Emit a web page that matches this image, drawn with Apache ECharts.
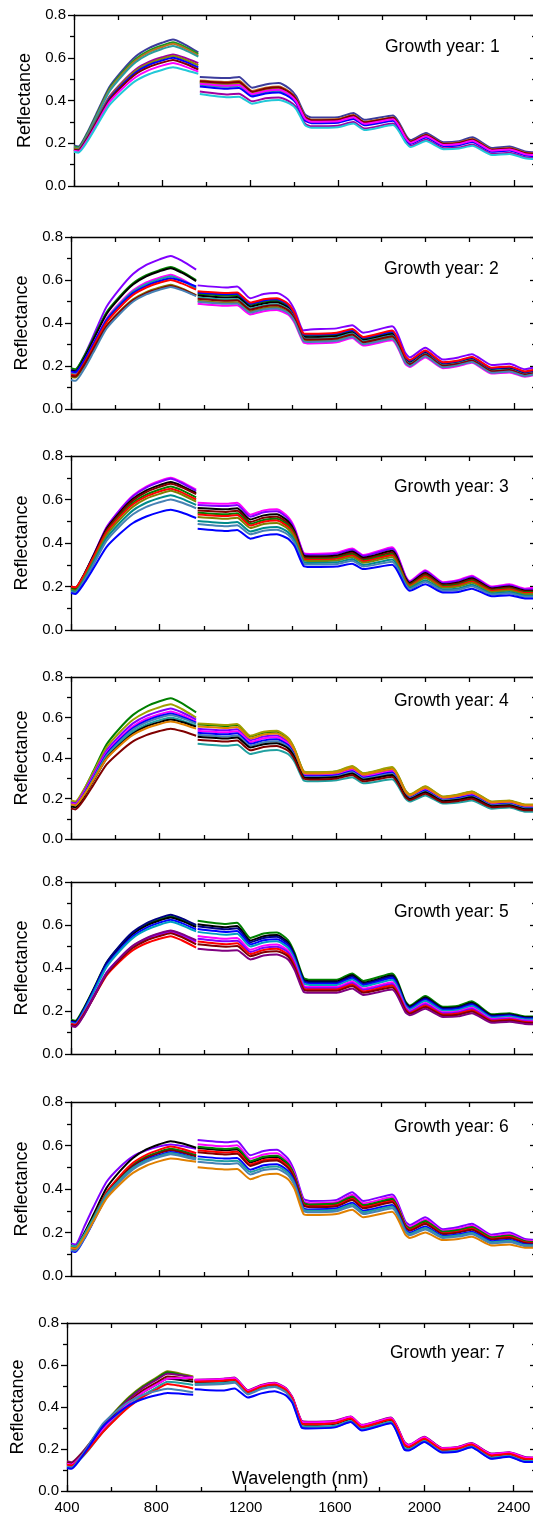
<!DOCTYPE html>
<html>
<head>
<meta charset="utf-8">
<script src="https://cdn.jsdelivr.net/npm/echarts@6.0.0/dist/echarts.min.js"></script>
<style>
html,body{margin:0;padding:0;overflow:hidden;background:#fff;}
#chart{width:540px;height:1515px;}
</style>
</head>
<body>
<div id="chart"></div>
<script>
// Wavelength grid (nm); 968 is the detector gap (null values)
const wavelengths = [400,420,460,500,560,620,680,740,800,850,900,965,968,972,1100,1150,1210,1270,1330,1380,1410,1450,1480,1600,1670,1720,1850,1910,1930,2000,2080,2150,2210,2300,2380,2450,2500];

const panelTitles = ['Growth year: 1','Growth year: 2','Growth year: 3','Growth year: 4','Growth year: 5','Growth year: 6','Growth year: 7'];
const xTickValues = [400,800,1200,1600,2000,2400];

const year1 = [
 [.19,.185,.249,.334,.462,.541,.606,.645,.670,.685,.664,.625,null,.510,.505,.510,.460,.475,.482,.455,.420,.335,.320,.322,.342,.310,.330,.235,.215,.248,.205,.210,.228,.178,.185,.162,.158],
 [.185,.180,.243,.326,.453,.531,.594,.633,.657,.672,.653,.618,null,.482,.473,.478,.434,.448,.454,.430,.399,.317,.303,.306,.324,.293,.314,.223,.203,.235,.193,.198,.214,.166,.173,.151,.147],
 [.18,.175,.238,.321,.447,.524,.587,.626,.650,.665,.646,.61,null,.494,.487,.492,.445,.460,.466,.441,.408,.325,.310,.313,.332,.300,.321,.228,.208,.240,.198,.203,.220,.171,.178,.156,.152],
 [.18,.175,.237,.318,.441,.517,.579,.617,.641,.655,.638,.605,null,.474,.464,.469,.426,.440,.446,.423,.393,.312,.298,.301,.319,.288,.310,.219,.200,.231,.190,.194,.210,.163,.169,.148,.144],
 [.175,.171,.228,.303,.417,.487,.545,.580,.602,.615,.601,.575,null,.442,.428,.432,.396,.410,.414,.395,.369,.292,.279,.282,.299,.269,.292,.205,.187,.216,.177,.180,.194,.150,.155,.135,.131],
 [.175,.171,.227,.301,.413,.482,.539,.573,.595,.608,.593,.565,null,.486,.478,.482,.437,.452,.458,.434,.402,.320,.306,.308,.327,.296,.316,.224,.205,.237,.195,.199,.216,.168,.174,.152,.148],
 [.17,.166,.222,.295,.407,.475,.531,.566,.587,.60,.584,.555,null,.466,.455,.459,.419,.433,.438,.416,.387,.307,.294,.296,.314,.284,.305,.216,.197,.227,.187,.191,.206,.160,.166,.144,.140],
 [.17,.166,.220,.292,.401,.468,.523,.556,.577,.59,.574,.545,null,.490,.483,.487,.441,.456,.462,.438,.405,.323,.308,.310,.330,.298,.319,.226,.207,.239,.197,.201,.218,.170,.176,.154,.150],
 [.165,.161,.214,.284,.391,.456,.509,.542,.563,.575,.561,.535,null,.478,.469,.473,.430,.444,.450,.427,.396,.315,.301,.303,.322,.291,.312,.221,.202,.233,.192,.196,.212,.165,.171,.149,.145],
 [.16,.156,.207,.275,.377,.440,.492,.523,.543,.555,.544,.525,null,.430,.415,.418,.385,.398,.402,.385,.360,.285,.272,.275,.292,.262,.285,.200,.182,.210,.172,.175,.188,.145,.150,.130,.126]
];
const year2 = [
 [.185,.180,.248,.338,.475,.559,.628,.670,.696,.712,.690,.648,null,.575,.565,.570,.515,.535,.540,.510,.460,.365,.370,.375,.390,.355,.385,.260,.240,.285,.230,.240,.255,.205,.210,.185,.195],
 [.19,.185,.246,.326,.449,.524,.585,.622,.646,.66,.639,.60,null,.536,.528,.530,.484,.499,.504,.480,.436,.344,.341,.346,.364,.327,.356,.238,.221,.266,.212,.221,.237,.187,.192,.170,.180],
 [.18,.175,.237,.318,.441,.517,.579,.617,.641,.655,.634,.595,null,.528,.519,.521,.476,.491,.496,.472,.429,.337,.334,.339,.357,.321,.349,.233,.216,.261,.208,.217,.233,.183,.188,.166,.176],
 [.17,.165,.225,.302,.420,.493,.552,.589,.611,.625,.604,.565,null,.490,.480,.482,.440,.455,.460,.440,.400,.310,.305,.310,.330,.295,.320,.210,.195,.240,.190,.200,.215,.165,.170,.150,.160],
 [.165,.160,.219,.296,.414,.487,.546,.582,.604,.618,.598,.56,null,.519,.510,.512,.467,.482,.487,.465,.422,.331,.327,.332,.351,.315,.342,.227,.211,.256,.204,.213,.228,.178,.184,.162,.172],
 [.175,.171,.227,.301,.413,.482,.539,.573,.595,.608,.595,.57,null,.542,.534,.536,.490,.505,.510,.485,.441,.348,.346,.351,.368,.331,.361,.242,.225,.269,.215,.223,.239,.189,.195,.173,.183],
 [.16,.156,.213,.288,.402,.472,.530,.565,.587,.60,.584,.555,null,.548,.540,.542,.495,.510,.515,.490,.445,.352,.350,.355,.372,.335,.365,.245,.228,.272,.218,.226,.242,.192,.198,.175,.185],
 [.15,.146,.201,.274,.385,.454,.510,.544,.565,.578,.561,.53,null,.504,.495,.497,.454,.469,.474,.452,.411,.320,.316,.321,.340,.305,.331,.219,.203,.248,.197,.206,.222,.172,.177,.156,.166],
 [.155,.151,.205,.276,.384,.451,.505,.539,.559,.572,.557,.528,null,.513,.504,.506,.462,.477,.482,.460,.418,.327,.323,.328,.347,.311,.338,.224,.208,.253,.201,.210,.226,.176,.181,.160,.170],
 [.135,.131,.187,.261,.373,.442,.499,.533,.555,.568,.553,.525,null,.499,.489,.491,.448,.463,.468,.447,.407,.316,.312,.317,.336,.301,.327,.215,.200,.245,.194,.204,.219,.169,.174,.154,.164]
];
const year3 = [
 [.19,.185,.251,.338,.471,.552,.618,.659,.685,.70,.681,.645,null,.585,.580,.585,.530,.550,.555,.520,.470,.355,.350,.355,.375,.345,.380,.250,.225,.275,.220,.230,.250,.200,.210,.190,.195],
 [.195,.19,.255,.340,.47,.55,.615,.655,.68,.695,.676,.64,null,.575,.570,.575,.521,.541,.546,.512,.463,.350,.345,.350,.369,.340,.374,.246,.221,.270,.216,.226,.245,.196,.206,.186,.186],
 [.2,.195,.258,.339,.464,.541,.603,.642,.666,.68,.663,.63,null,.561,.555,.560,.508,.527,.532,.500,.453,.343,.338,.342,.361,.332,.364,.240,.216,.262,.210,.219,.238,.191,.200,.181,.181],
 [.195,.19,.252,.333,.457,.534,.596,.634,.658,.672,.656,.625,null,.549,.543,.548,.497,.516,.521,.490,.445,.337,.332,.336,.354,.326,.356,.235,.212,.256,.206,.214,.232,.187,.195,.177,.177],
 [.19,.185,.246,.326,.449,.524,.585,.622,.646,.66,.643,.61,null,.539,.532,.537,.488,.506,.511,.482,.438,.332,.327,.331,.348,.320,.350,.231,.208,.250,.202,.209,.227,.183,.191,.173,.173],
 [.2,.196,.254,.331,.448,.52,.578,.614,.637,.65,.633,.60,null,.531,.524,.529,.480,.498,.503,.475,.432,.328,.323,.327,.343,.316,.344,.227,.205,.246,.198,.205,.223,.180,.187,.170,.170],
 [.185,.18,.24,.317,.435,.508,.567,.604,.626,.64,.623,.59,null,.519,.511,.516,.469,.487,.492,.465,.423,.322,.317,.320,.336,.309,.336,.222,.200,.239,.194,.200,.217,.175,.182,.165,.165],
 [.18,.176,.233,.308,.422,.492,.55,.585,.607,.62,.604,.575,null,.501,.492,.497,.453,.469,.474,.450,.410,.313,.308,.311,.326,.299,.324,.215,.193,.229,.186,.191,.208,.168,.175,.158,.158],
 [.175,.171,.226,.298,.409,.477,.532,.566,.587,.60,.586,.56,null,.487,.477,.482,.440,.456,.461,.438,.400,.306,.301,.303,.318,.292,.314,.209,.188,.222,.181,.185,.201,.163,.169,.153,.153],
 [.17,.166,.216,.281,.381,.442,.492,.522,.542,.553,.54,.515,null,.465,.455,.460,.420,.435,.440,.420,.385,.295,.290,.292,.305,.280,.300,.200,.180,.210,.172,.175,.190,.155,.160,.145,.145]
];
const year4 = [
 [.185,.18,.246,.333,.466,.547,.613,.654,.68,.695,.671,.625,null,.565,.558,.563,.506,.525,.530,.496,.442,.333,.328,.333,.357,.323,.352,.238,.218,.258,.208,.218,.233,.183,.188,.168,.168],
 [.19,.185,.247,.328,.451,.527,.589,.627,.651,.665,.642,.60,null,.570,.563,.568,.510,.530,.535,.500,.445,.335,.330,.335,.360,.325,.355,.240,.220,.260,.210,.220,.235,.185,.190,.170,.170],
 [.18,.175,.236,.315,.436,.510,.571,.608,.631,.645,.626,.59,null,.545,.537,.542,.488,.506,.511,.480,.429,.324,.319,.324,.346,.313,.340,.230,.211,.249,.201,.210,.224,.176,.181,.161,.161],
 [.175,.17,.23,.307,.425,.498,.557,.594,.616,.63,.613,.58,null,.535,.527,.532,.479,.497,.502,.472,.422,.319,.314,.319,.341,.308,.334,.226,.208,.244,.198,.206,.219,.173,.178,.158,.158],
 [.17,.166,.224,.301,.418,.49,.548,.584,.607,.62,.604,.575,null,.525,.517,.522,.470,.487,.492,.464,.416,.315,.310,.315,.335,.303,.328,.222,.204,.240,.194,.202,.215,.169,.174,.154,.154],
 [.165,.161,.219,.295,.411,.482,.540,.576,.599,.612,.597,.57,null,.515,.506,.511,.460,.478,.483,.456,.409,.310,.305,.310,.330,.298,.322,.218,.201,.235,.191,.198,.210,.166,.171,.151,.151],
 [.165,.161,.217,.291,.404,.474,.530,.565,.587,.60,.586,.56,null,.470,.460,.465,.420,.435,.440,.420,.380,.290,.285,.290,.305,.275,.295,.200,.185,.215,.175,.180,.190,.150,.155,.135,.135],
 [.16,.156,.212,.285,.397,.465,.521,.556,.577,.59,.578,.555,null,.505,.496,.501,.452,.468,.473,.448,.403,.306,.301,.306,.324,.293,.316,.214,.197,.231,.187,.194,.206,.162,.167,.147,.147],
 [.17,.166,.219,.289,.396,.461,.514,.547,.568,.58,.568,.545,null,.555,.548,.553,.497,.516,.521,.488,.435,.328,.323,.328,.352,.318,.346,.234,.215,.253,.205,.214,.228,.180,.185,.165,.165],
 [.15,.146,.197,.265,.367,.430,.482,.513,.533,.545,.533,.51,null,.490,.481,.486,.438,.454,.459,.436,.393,.299,.294,.299,.316,.285,.307,.208,.192,.224,.182,.188,.199,.157,.162,.142,.142]
];
const year5 = [
 [.16,.155,.218,.299,.424,.501,.563,.602,.626,.64,.624,.595,null,.620,.605,.610,.540,.560,.565,.530,.470,.355,.345,.345,.375,.340,.375,.245,.225,.270,.220,.225,.245,.185,.190,.175,.175],
 [.155,.15,.213,.294,.419,.496,.558,.597,.621,.635,.619,.59,null,.604,.590,.595,.528,.548,.553,.519,.460,.347,.338,.338,.367,.332,.366,.239,.220,.263,.214,.219,.238,.180,.185,.171,.171],
 [.15,.145,.21,.294,.424,.504,.568,.608,.633,.648,.631,.60,null,.594,.580,.585,.520,.540,.545,.512,.454,.342,.333,.333,.361,.327,.360,.235,.216,.258,.210,.215,.234,.177,.182,.168,.168],
 [.15,.145,.207,.288,.411,.487,.549,.587,.611,.625,.609,.58,null,.581,.568,.572,.510,.529,.534,.503,.446,.336,.327,.327,.354,.321,.353,.230,.212,.252,.206,.210,.229,.173,.178,.165,.164],
 [.145,.14,.201,.281,.404,.479,.54,.577,.601,.615,.599,.57,null,.568,.555,.559,.500,.519,.524,.494,.438,.329,.321,.321,.347,.314,.345,.225,.207,.246,.201,.205,.223,.169,.174,.161,.160],
 [.14,.136,.191,.264,.375,.444,.5,.534,.555,.568,.551,.52,null,.549,.536,.540,.485,.504,.509,.481,.426,.319,.312,.312,.337,.304,.334,.218,.200,.237,.194,.198,.215,.163,.168,.156,.155],
 [.14,.136,.192,.265,.378,.447,.503,.537,.559,.572,.556,.525,null,.536,.524,.527,.475,.494,.499,.472,.418,.313,.306,.306,.330,.298,.326,.213,.196,.231,.189,.193,.209,.159,.164,.152,.151],
 [.14,.136,.189,.258,.364,.43,.483,.515,.536,.548,.529,.495,null,.523,.511,.515,.465,.484,.489,.463,.410,.306,.300,.300,.323,.291,.319,.208,.191,.225,.184,.188,.204,.155,.160,.149,.147],
 [.135,.131,.186,.259,.37,.438,.494,.528,.549,.562,.544,.51,null,.510,.499,.502,.455,.473,.478,.454,.402,.300,.294,.294,.316,.285,.311,.203,.187,.219,.179,.183,.198,.151,.156,.145,.144],
 [.13,.126,.183,.259,.375,.446,.504,.539,.562,.575,.559,.53,null,.490,.480,.483,.440,.458,.463,.440,.390,.290,.285,.285,.305,.275,.300,.195,.180,.210,.172,.175,.190,.145,.150,.140,.138]
];
const year6 = [
 [.15,.145,.227,.314,.432,.5,.55,.578,.596,.605,.598,.585,null,.625,.615,.620,.555,.575,.580,.540,.480,.355,.345,.350,.385,.345,.375,.250,.235,.270,.215,.225,.240,.190,.200,.170,.165],
 [.13,.126,.184,.261,.378,.45,.508,.544,.567,.58,.575,.565,null,.606,.596,.601,.539,.559,.564,.526,.468,.345,.335,.340,.373,.334,.363,.241,.226,.260,.208,.217,.231,.183,.192,.164,.160],
 [.14,.135,.198,.279,.404,.481,.543,.582,.606,.62,.61,.59,null,.588,.578,.582,.522,.542,.547,.512,.456,.334,.326,.331,.361,.323,.351,.232,.217,.249,.200,.209,.222,.175,.184,.158,.155],
 [.135,.13,.189,.266,.383,.455,.513,.549,.572,.585,.575,.555,null,.594,.584,.588,.528,.548,.553,.516,.460,.338,.329,.334,.365,.326,.355,.235,.220,.253,.203,.211,.225,.178,.186,.160,.156],
 [.125,.12,.181,.261,.384,.459,.52,.557,.581,.595,.585,.565,null,.578,.568,.571,.513,.533,.538,.504,.450,.328,.320,.325,.355,.317,.345,.227,.212,.243,.196,.204,.217,.171,.179,.155,.152],
 [.13,.126,.184,.26,.376,.448,.506,.542,.565,.578,.568,.55,null,.569,.559,.562,.506,.526,.531,.497,.444,.324,.316,.321,.349,.311,.339,.223,.208,.239,.193,.200,.213,.168,.175,.152,.149],
 [.115,.11,.170,.247,.365,.438,.497,.534,.556,.57,.56,.54,null,.550,.540,.543,.489,.509,.514,.483,.432,.313,.306,.311,.337,.300,.327,.214,.199,.228,.185,.192,.204,.160,.167,.146,.144],
 [.14,.136,.191,.263,.374,.442,.497,.531,.552,.565,.556,.54,null,.538,.528,.530,.478,.498,.503,.474,.424,.306,.300,.305,.329,.293,.319,.208,.193,.221,.180,.187,.198,.155,.162,.142,.141],
 [.12,.116,.173,.248,.362,.432,.49,.525,.547,.56,.551,.535,null,.525,.515,.518,.467,.487,.492,.464,.416,.299,.293,.298,.321,.285,.311,.202,.187,.214,.175,.181,.192,.150,.156,.138,.137],
 [.13,.126,.179,.249,.356,.421,.474,.507,.528,.54,.535,.525,null,.500,.490,.492,.445,.465,.470,.445,.400,.285,.280,.285,.305,.270,.295,.190,.175,.200,.165,.170,.180,.140,.145,.130,.130]
];
const year7 = [
 [.14,.136,.174,.226,.312,.385,.45,.501,.54,.57,.561,.545,null,.523,.528,.533,.474,.499,.509,.484,.439,.326,.321,.326,.348,.308,.343,.225,.213,.251,.199,.204,.223,.171,.179,.155,.154],
 [.135,.131,.169,.221,.307,.38,.445,.496,.535,.565,.556,.54,null,.524,.529,.534,.475,.500,.510,.485,.440,.328,.323,.328,.349,.309,.344,.226,.214,.252,.200,.205,.224,.172,.180,.157,.155],
 [.14,.136,.173,.224,.307,.378,.441,.491,.529,.558,.552,.54,null,.530,.535,.540,.480,.505,.515,.490,.445,.335,.330,.335,.355,.315,.350,.235,.220,.258,.205,.210,.228,.178,.185,.162,.160],
 [.135,.131,.168,.217,.299,.369,.43,.479,.516,.545,.54,.53,null,.526,.531,.536,.477,.502,.512,.487,.442,.331,.326,.331,.351,.311,.346,.230,.216,.255,.202,.207,.225,.175,.182,.159,.157],
 [.13,.126,.162,.211,.292,.361,.422,.47,.507,.535,.53,.52,null,.518,.523,.528,.470,.495,.505,.480,.435,.320,.315,.320,.343,.303,.338,.218,.208,.247,.195,.200,.219,.167,.175,.151,.150],
 [.13,.126,.162,.211,.292,.361,.422,.47,.507,.535,.537,.54,null,.528,.533,.538,.478,.503,.513,.488,.443,.332,.327,.332,.353,.313,.348,.232,.218,.256,.203,.208,.226,.176,.183,.160,.158],
 [.12,.116,.152,.2,.28,.348,.408,.456,.492,.52,.515,.505,null,.510,.515,.520,.464,.489,.499,.474,.429,.311,.306,.311,.335,.295,.330,.207,.200,.240,.189,.194,.214,.160,.169,.144,.144],
 [.125,.121,.156,.202,.279,.344,.402,.448,.483,.51,.502,.488,null,.520,.525,.530,.472,.497,.507,.482,.437,.323,.318,.323,.345,.305,.340,.221,.210,.249,.197,.202,.221,.169,.177,.153,.152],
 [.115,.111,.16,.223,.32,.379,.427,.457,.476,.487,.481,.47,null,.505,.510,.515,.460,.485,.495,.470,.425,.305,.300,.305,.330,.290,.325,.200,.195,.235,.185,.190,.210,.155,.165,.140,.140],
 [.11,.106,.153,.214,.306,.363,.41,.438,.456,.467,.464,.458,null,.485,.478,.488,.445,.465,.475,.455,.418,.303,.298,.303,.328,.288,.323,.198,.193,.233,.183,.188,.208,.153,.163,.138,.138]
];

// Styles (kept apart from data)
const panelColors = [
 ['#3c3c9c','#1a9a1a','#c07020','#2a9d9d','#a000a0','#8c8c00','#0000ff','#800000','#ff00ff','#22c8d8'],
 ['#8000ff','#008000','#000000','#ff00ff','#20a0a0','#0000ff','#ff0000','#808000','#800000','#4682b4'],
 ['#ff00ff','#8000ff','#000000','#800000','#008000','#ff0000','#808000','#008b8b','#4682b4','#0000ff'],
 ['#008000','#a0a000','#8000ff','#ff00ff','#0000ff','#4682b4','#20a0a0','#000000','#e08000','#800000'],
 ['#008000','#000000','#000080','#0000ff','#00a0c0','#ff00ff','#8000ff','#ff0000','#800000','#800080'],
 ['#8000ff','#ff00ff','#000000','#008000','#ff0000','#800000','#0000ff','#20a0a0','#4682b4','#e08000'],
 ['#808000','#008000','#800080','#800000','#000000','#ff00ff','#20a0a0','#ff0000','#4682b4','#0000ff']
];
const panelLayout = [
 {left:74, top:15,   height:171, titleLeft:385, titleTop:38},
 {left:71, top:237,  height:172, titleLeft:384, titleTop:260},
 {left:71, top:456,  height:174, titleLeft:394, titleTop:478},
 {left:71, top:677,  height:162, titleLeft:394, titleTop:692},
 {left:71, top:882,  height:172, titleLeft:394, titleTop:903},
 {left:71, top:1102, height:174, titleLeft:394, titleTop:1118},
 {left:67, top:1323, height:172, titleLeft:390, titleTop:1344}
];
const allYears = [year1, year2, year3, year4, year5, year6, year7];

const FONT = 'Liberation Sans, Arial, sans-serif';
const axisLineStyle = {color:'#000', width:1.3};

const grid = [], xAxis = [], yAxis = [], series = [], title = [];
panelLayout.forEach((p, i) => {
  grid.push({left:p.left, right:4, top:p.top, height:p.height, containLabel:false});
  const last = i === panelLayout.length - 1;
  xAxis.push({
    gridIndex:i, type:'value', min:400, max:2500, interval:400, position:'bottom',
    axisLine:{show:true, onZero:false, lineStyle:axisLineStyle},
    axisTick:{show:true, inside:true, length:6, lineStyle:axisLineStyle},
    minorTick:{show:true, splitNumber:2, length:4, lineStyle:axisLineStyle},
    splitLine:{show:false}, minorSplitLine:{show:false},
    axisLabel:{show:last, fontSize:15, color:'#000', fontFamily:FONT, margin:9,
      formatter: v => xTickValues.indexOf(v) >= 0 ? String(v) : ''}
  });
  xAxis.push({
    gridIndex:i, type:'value', min:400, max:2500, interval:400, position:'top',
    axisLine:{show:true, onZero:false, lineStyle:axisLineStyle},
    axisTick:{show:true, inside:true, length:5, lineStyle:axisLineStyle},
    minorTick:{show:true, splitNumber:2, length:5, lineStyle:axisLineStyle},
    splitLine:{show:false}, axisLabel:{show:false}
  });
  yAxis.push({
    gridIndex:i, type:'value', min:0, max:0.8, interval:0.2, position:'left',
    name:'Reflectance', nameLocation:'middle', nameGap:33,
    nameTextStyle:{fontSize:18, color:'#000', fontFamily:FONT},
    axisLine:{show:true, onZero:false, lineStyle:axisLineStyle},
    axisTick:{show:true, inside:false, length:6, lineStyle:axisLineStyle},
    minorTick:{show:true, splitNumber:2, length:4, lineStyle:axisLineStyle},
    splitLine:{show:false},
    axisLabel:{fontSize:15, color:'#000', fontFamily:FONT, margin:8, formatter: v => v.toFixed(1)}
  });
  yAxis.push({
    gridIndex:i, type:'value', min:0, max:0.8, interval:0.2, position:'right',
    axisLine:{show:true, onZero:false, lineStyle:axisLineStyle},
    axisTick:{show:true, inside:true, length:6, lineStyle:axisLineStyle},
    minorTick:{show:true, splitNumber:2, length:4, lineStyle:axisLineStyle},
    splitLine:{show:false}, axisLabel:{show:false}
  });
  title.push({text:panelTitles[i], left:p.titleLeft, top:p.titleTop, padding:0,
    textStyle:{fontSize:17.5, fontWeight:'normal', color:'#000', fontFamily:FONT}});
  allYears[i].forEach((vals, j) => {
    series.push({
      type:'line', xAxisIndex:2*i, yAxisIndex:2*i,
      data: wavelengths.map((w, k) => [w, vals[k]]),
      showSymbol:false, symbol:'none', smooth:0.2, connectNulls:false,
      lineStyle:{width:2, color:panelColors[i][j]},
      itemStyle:{color:panelColors[i][j]},
      silent:true
    });
  });
});
title.push({text:'Wavelength (nm)', left:232, top:1470, padding:0,
  textStyle:{fontSize:18, fontWeight:'normal', color:'#000', fontFamily:FONT}});

const chart = echarts.init(document.getElementById('chart'), null, {renderer:'canvas'});
chart.setOption({animation:false, backgroundColor:'#fff', title, grid, xAxis, yAxis, series});
</script>
</body>
</html>
